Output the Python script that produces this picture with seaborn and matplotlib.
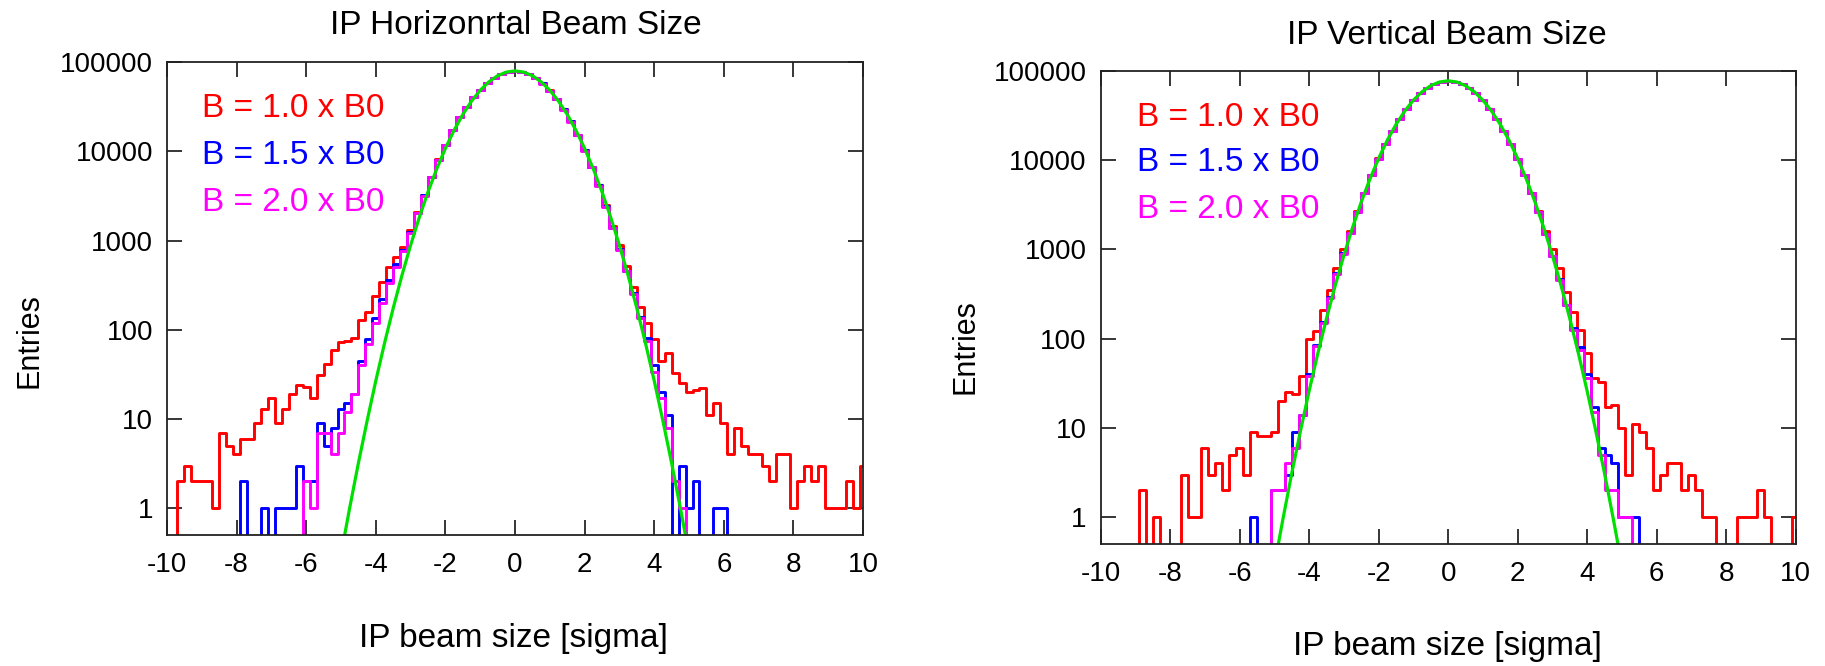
import numpy as np
import matplotlib
matplotlib.use('Agg')
import matplotlib.pyplot as plt
import seaborn as sns
from matplotlib.ticker import FixedLocator, NullLocator, FuncFormatter

# histogram bins: centres -10.0 ... 10.0, width 0.2
bin_centres = np.round(np.arange(-10.0, 10.01, 0.2), 1)

labels = ['B = 1.0 x B0', 'B = 1.5 x B0', 'B = 2.0 x B0']
colors = ['#ff0000', '#0000ff', '#ff00ff']
fit_color = '#00e000'

# --- horizontal beam size ---
red_h = [0, 0, 2, 3, 2, 2, 2, 1, 7, 5,
         4, 6, 6, 9, 13, 17, 9, 13, 19, 24,
         23, 17, 31, 41, 60, 72, 75, 80, 130, 160,
         240, 340, 500, 650, 850, 1300, 2100, 3250, 5200, 8150,
         11800, 17300, 24400, 31600, 40900, 48600, 58100, 66700, 73600, 78200,
         79700, 78200, 73500, 66400, 57700, 48100, 38500, 29500, 21700, 15300,
         10300, 6700, 4200, 2500, 1450, 880, 520, 300, 180, 120,
         78, 45, 55, 33, 25, 20, 21, 22, 11, 15,
         9, 4, 8, 5, 4, 4, 3, 2, 4, 4,
         1, 2, 3, 2, 3, 1, 1, 1, 2, 1,
         3]
blue_h = [0, 0, 0, 0, 0, 0, 0, 0, 0, 0,
          0, 2, 0, 0, 1, 0, 1, 1, 1, 3,
          2, 2, 9, 5, 8, 13, 15, 19, 45, 78,
          135, 220, 360, 540, 780, 1250, 2050, 3200, 5150, 8100,
          11750, 17250, 24350, 31550, 40850, 48550, 58050, 66650, 73550, 78150,
          79650, 78150, 73450, 66350, 57650, 48050, 38450, 29450, 21650, 15250,
          10250, 6650, 4150, 2450, 1400, 800, 460, 260, 140, 80,
          40, 20, 11, 0, 3, 1, 2, 0, 0, 1,
          1, 0, 0, 0, 0, 0, 0, 0, 0, 0,
          0, 0, 0, 0, 0, 0, 0, 0, 0, 0,
          0]
magenta_h = [0, 0, 0, 0, 0, 0, 0, 0, 0, 0,
             0, 0, 0, 0, 0, 0, 0, 0, 0, 0,
             2, 1, 7, 7, 4, 7, 12, 19, 40, 70,
             120, 200, 330, 510, 760, 1230, 2030, 3180, 5130, 8080,
             11700, 17200, 24300, 31500, 40800, 48500, 58000, 66600, 73500, 78100,
             79600, 78100, 73400, 66300, 57600, 48000, 38400, 29400, 21600, 15200,
             10200, 6600, 4100, 2400, 1380, 790, 450, 250, 135, 75,
             34, 17, 8, 2, 1, 0, 0, 0, 0, 0,
             0, 0, 0, 0, 0, 0, 0, 0, 0, 0,
             0, 0, 0, 0, 0, 0, 0, 0, 0, 0,
             0]

# --- vertical beam size ---
red_v = [0, 0, 0, 0, 0, 0, 2, 0, 1, 0,
         0, 0, 3, 1, 1, 6, 3, 4, 2, 5,
         6, 3, 9, 8, 8, 9, 20, 25, 24, 38,
         100, 120, 210, 350, 620, 1000, 1600, 2650, 4300, 6800,
         10400, 15200, 21300, 28800, 37300, 46500, 55600, 64000, 70700, 75100,
         76500, 75100, 70700, 64000, 55600, 46500, 37300, 28700, 21200, 15100,
         10300, 6800, 4300, 2650, 1600, 1000, 620, 330, 200, 125,
         68, 36, 33, 17, 18, 10, 3, 11, 9, 6,
         2, 3, 4, 4, 2, 3, 2, 1, 1, 0,
         0, 0, 1, 1, 1, 2, 1, 0, 0, 0,
         1]
blue_v = [0, 0, 0, 0, 0, 0, 0, 0, 0, 0,
          0, 0, 0, 0, 0, 0, 0, 0, 0, 0,
          0, 0, 1, 0, 0, 2, 2, 3, 9, 14,
          40, 85, 155, 290, 540, 900, 1530, 2600, 4250, 6780,
          10380, 15180, 21280, 28780, 37280, 46480, 55580, 63980, 70680, 75080,
          76480, 75080, 70680, 63980, 55580, 46480, 37280, 28680, 21180, 15080,
          10280, 6780, 4280, 2600, 1500, 840, 460, 240, 130, 80,
          40, 17, 6, 5, 4, 1, 1, 1, 0, 0,
          0, 0, 0, 0, 0, 0, 0, 0, 0, 0,
          0, 0, 0, 0, 0, 0, 0, 0, 0, 0,
          0]
magenta_v = [0, 0, 0, 0, 0, 0, 0, 0, 0, 0,
             0, 0, 0, 0, 0, 0, 0, 0, 0, 0,
             0, 0, 0, 0, 0, 2, 2, 4, 6, 14,
             38, 82, 150, 285, 530, 890, 1520, 2590, 4240, 6770,
             10370, 15170, 21270, 28770, 37270, 46470, 55570, 63970, 70670, 75070,
             76470, 75070, 70670, 63970, 55570, 46470, 37270, 28670, 21170, 15070,
             10270, 6770, 4270, 2590, 1490, 830, 450, 235, 125, 75,
             36, 15, 5, 2, 2, 1, 1, 0, 0, 0,
             0, 0, 0, 0, 0, 0, 0, 0, 0, 0,
             0, 0, 0, 0, 0, 0, 0, 0, 0, 0,
             0]

# gaussian fit curves, sampled every 0.25 sigma from -5 to 5
fit_x = np.linspace(-5, 5, 41)
fit_h = [0.30, 1.01, 3.2, 9.5, 26.8, 70.5, 174.5, 406, 886, 1818,
         3506, 6346, 10800, 17260, 25910, 36530, 48390, 60220, 70410, 77330,
         79790,
         77330, 70410, 60220, 48390, 36530, 25910, 17260, 10800, 6346, 3506,
         1818, 886, 406, 174.5, 70.5, 26.8, 9.5, 3.2, 1.01, 0.30]
fit_v = [0.29, 0.97, 3.1, 9.2, 25.9, 68, 168, 392, 855, 1754,
         3383, 6124, 10420, 16660, 25000, 35250, 46700, 58110, 67940, 74620,
         77000,
         74620, 67940, 58110, 46700, 35250, 25000, 16660, 10420, 6124, 3383,
         1754, 855, 392, 168, 68, 25.9, 9.2, 3.1, 0.97, 0.29]

sns.set_style('ticks')
plt.rcParams['font.family'] = ['Liberation Sans', 'DejaVu Sans']
plt.rcParams['axes.unicode_minus'] = False
plt.rcParams['text.color'] = 'black'

fig = plt.figure(figsize=(18.25, 6.66), dpi=100)
ax_h = fig.add_axes([0.0915, 0.1967, 0.3814, 0.710])
ax_v = fig.add_axes([0.6031, 0.1832, 0.3808, 0.7107])


def draw_panel(ax, series, fit):
    for counts, color in zip(series, colors):
        sns.histplot(x=bin_centres, weights=counts, binwidth=0.2,
                     binrange=(-10.1, 10.1), element='step', fill=False,
                     color=color, linewidth=2.1, ax=ax)
    sns.lineplot(x=fit_x, y=fit, color=fit_color, linewidth=2.3, ax=ax)
    ax.set_yscale('log')
    ax.set_xlim(-10, 10)
    ax.set_ylim(0.5, 100000)
    ax.xaxis.set_major_locator(FixedLocator(np.arange(-10, 11, 2)))
    ax.yaxis.set_major_locator(FixedLocator([1, 10, 100, 1000, 10000, 100000]))
    ax.yaxis.set_minor_locator(NullLocator())
    ax.yaxis.set_major_formatter(FuncFormatter(lambda y, _: '{:g}'.format(y)))
    ax.tick_params(direction='in', length=11, width=1.1, top=True, right=True,
                   labelsize=20, colors='black')
    ax.tick_params(axis='x', pad=12)
    ax.tick_params(axis='y', pad=10)
    for s in ax.spines.values():
        s.set_linewidth(1.3)
        s.set_color('#222222')
    ax.set_xlabel('')
    ax.set_ylabel('')


draw_panel(ax_h, [red_h, blue_h, magenta_h], fit_h)
draw_panel(ax_v, [red_v, blue_v, magenta_v], fit_v)

for ax, x0, ys in [(ax_h, 0.051, [0.097, 0.197, 0.296]),
                   (ax_v, 0.052, [0.099, 0.195, 0.294])]:
    for lab, col, yy in zip(labels, colors, ys):
        ax.text(x0, 1 - yy, lab, color=col, fontsize=24, transform=ax.transAxes,
                ha='left', va='center')

fig.text(0.2827, 0.961, 'IP Horizonrtal Beam Size', fontsize=24, ha='center', va='center')
fig.text(0.7929, 0.947, 'IP Vertical Beam Size', fontsize=24, ha='center', va='center')
fig.text(0.0159, 0.489, 'Entries', fontsize=22, rotation=90, ha='center', va='center')
fig.text(0.5293, 0.479, 'Entries', fontsize=22, rotation=90, ha='center', va='center')
fig.text(0.2816, 0.042, 'IP beam size [sigma]', fontsize=24, ha='center', va='center')
fig.text(0.7929, 0.030, 'IP beam size [sigma]', fontsize=24, ha='center', va='center')

fig.savefig('out.png', dpi=100, facecolor='white')
